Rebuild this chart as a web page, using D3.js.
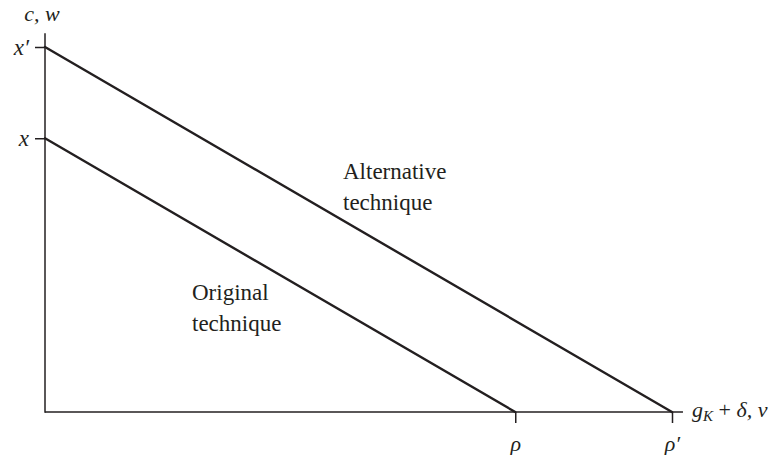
<!DOCTYPE html>
<html>
<head>
<meta charset="utf-8">
<script src="https://cdn.jsdelivr.net/npm/d3@7"></script>
<style>
  html, body { margin: 0; padding: 0; background: #fff; }
  svg { display: block; }
  text { font-family: "Liberation Serif", "DejaVu Serif", serif; fill: #231f20; }
  .math { font-style: italic; }
</style>
</head>
<body>
<svg id="chart" width="772" height="455"></svg>
<script>
// Wage–profit frontiers for two techniques
const techniques = ["Original technique", "Alternative technique"];
const wageIntercepts = [0.75, 1.0];      // x, x′ (maximum wage when profit rate is zero)
const profitIntercepts = [0.75, 1.0];    // ρ, ρ′ (maximum profit rate when wage is zero)
const yTickLabels = ["x", "x\u2032"];
const xTickLabels = ["\u03C1", "\u03C1\u2032"];

const svg = d3.select("#chart");
const ink = "#231f20";

const x = d3.scaleLinear().domain([0, 1]).range([45, 672]);
const y = d3.scaleLinear().domain([0, 1]).range([412, 47]);

// Axis lines, running a little beyond the outermost intercepts
svg.append("line")
  .attr("x1", x(0)).attr("y1", y(0))
  .attr("x2", x(1.0175)).attr("y2", y(0))
  .attr("stroke", ink).attr("stroke-width", 1.5);
svg.append("line")
  .attr("x1", x(0)).attr("y1", y(0) + 0.75)
  .attr("x2", x(0)).attr("y2", y(1.038))
  .attr("stroke", ink).attr("stroke-width", 1.5);

// Tick marks
const xAxis = d3.axisBottom(x)
  .tickValues(profitIntercepts)
  .tickFormat((d, i) => xTickLabels[i])
  .tickSize(11)
  .tickPadding(12);
const gx = svg.append("g").attr("transform", `translate(0,${y(0)})`).call(xAxis);
gx.select(".domain").remove();
gx.selectAll(".tick line").attr("stroke", ink).attr("stroke-width", 1.5);
gx.selectAll(".tick text")
  .attr("class", "math")
  .attr("font-size", 22)
  .attr("fill", ink);

const yAxis = d3.axisLeft(y)
  .tickValues(wageIntercepts)
  .tickFormat((d, i) => yTickLabels[i])
  .tickSize(10)
  .tickPadding(6);
const gy = svg.append("g").attr("transform", `translate(${x(0)},0)`).call(yAxis);
gy.select(".domain").remove();
gy.selectAll(".tick line").attr("stroke", ink).attr("stroke-width", 1.5);
gy.selectAll(".tick text")
  .attr("class", "math")
  .attr("font-size", 23)
  .attr("fill", ink);

// Frontier lines
techniques.forEach((name, i) => {
  svg.append("line")
    .attr("x1", x(0)).attr("y1", y(wageIntercepts[i]))
    .attr("x2", x(profitIntercepts[i])).attr("y2", y(0))
    .attr("stroke", ink).attr("stroke-width", 2.4)
    .attr("stroke-linecap", "round");
});

// Axis titles
svg.append("text").attr("class", "math")
  .attr("x", 42).attr("y", 21).attr("text-anchor", "middle")
  .attr("font-size", 22).text("c, w");

const xt = svg.append("text").attr("class", "math")
  .attr("x", 692).attr("y", 417).attr("font-size", 22);
xt.append("tspan").text("g");
xt.append("tspan").attr("font-size", 15).attr("dy", 4).text("K");
xt.append("tspan").attr("dy", -4).attr("font-style", "normal").text(" + ");
xt.append("tspan").text("\u03B4, v");

// Curve labels
const labelPos = [
  { x: 192, y: 300 },
  { x: 343, y: 179 }
];
techniques.forEach((name, i) => {
  const words = name.split(" ");
  const t = svg.append("text")
    .attr("x", labelPos[i].x).attr("y", labelPos[i].y)
    .attr("font-size", 23);
  words.forEach((w, j) => {
    t.append("tspan").attr("x", labelPos[i].x).attr("dy", j === 0 ? 0 : 31).text(w);
  });
});
</script>
</body>
</html>
